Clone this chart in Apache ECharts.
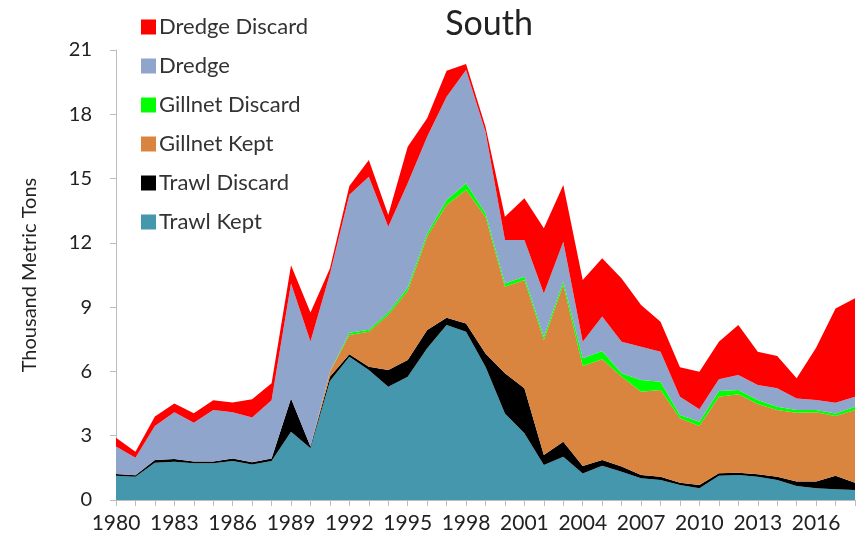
<!DOCTYPE html>
<html>
<head>
<meta charset="utf-8">
<script src="https://cdn.jsdelivr.net/npm/echarts@6/dist/echarts.min.js"></script>
<style>
  html, body { margin: 0; padding: 0; background: #fff; }
  #chart { width: 860px; height: 546px; }
</style>
</head>
<body>
<div id="chart"></div>
<script>
// years on the x axis
const years = [];
for (let y = 1980; y <= 2018; y++) years.push(String(y));

// thousand metric tons
const trawlKept = [1.13, 1.09, 1.74, 1.79, 1.71, 1.71, 1.82, 1.66, 1.82, 3.19, 2.41, 5.55, 6.69, 6.07, 5.29, 5.75, 7.08, 8.17, 7.85, 6.22, 4.04, 3.11, 1.63, 2.02, 1.24, 1.6, 1.32, 1.01, 0.93, 0.7, 0.55, 1.13, 1.17, 1.09, 0.93, 0.65, 0.55, 0.5, 0.47];
const trawlDiscard = [0.08, 0.06, 0.13, 0.12, 0.09, 0.09, 0.12, 0.1, 0.12, 1.55, 0.09, 0.2, 0.11, 0.15, 0.78, 0.78, 0.85, 0.34, 0.39, 0.62, 1.87, 2.1, 0.47, 0.7, 0.35, 0.27, 0.24, 0.16, 0.16, 0.11, 0.15, 0.12, 0.1, 0.11, 0.16, 0.21, 0.31, 0.63, 0.34];
const gillnetKept = [0, 0, 0, 0, 0, 0, 0, 0, 0, 0, 0, 0.23, 0.9, 1.63, 2.56, 3.22, 4.37, 5.26, 6.23, 6.38, 4.04, 5.06, 5.37, 7.33, 4.66, 4.7, 4.19, 3.88, 4.04, 3.0, 2.75, 3.57, 3.66, 3.28, 3.11, 3.21, 3.23, 2.79, 3.39];
const gillnetDiscard = [0, 0, 0, 0, 0, 0, 0, 0, 0, 0, 0, 0.02, 0.1, 0.1, 0.12, 0.15, 0.14, 0.23, 0.31, 0.16, 0.15, 0.15, 0.15, 0.15, 0.36, 0.38, 0.16, 0.55, 0.39, 0.16, 0.2, 0.27, 0.2, 0.19, 0.15, 0.13, 0.11, 0.12, 0.15];
const dredge = [1.29, 0.82, 1.58, 2.19, 1.8, 2.4, 2.16, 2.09, 2.71, 5.36, 4.9, 4.55, 6.45, 7.14, 4.0, 4.88, 4.51, 4.82, 5.29, 3.81, 2.03, 1.71, 2.02, 1.85, 0.78, 1.61, 1.48, 1.55, 1.4, 0.85, 0.58, 0.54, 0.7, 0.7, 0.86, 0.54, 0.47, 0.5, 0.47];
const dredgeDiscard = [0.4, 0.28, 0.45, 0.4, 0.45, 0.45, 0.45, 0.85, 0.8, 0.85, 1.35, 0.25, 0.4, 0.78, 0.55, 1.71, 0.86, 1.21, 0.28, 0.23, 1.09, 1.95, 3.04, 2.65, 2.88, 2.72, 2.95, 1.95, 1.4, 1.37, 1.76, 1.76, 2.34, 1.55, 1.51, 0.94, 2.43, 4.4, 4.59];

const yTicks = [0, 3, 6, 9, 12, 15, 18, 21];

const font = 'Lato, "Open Sans", sans-serif';

function area(name, data, color) {
  return {
    name: name,
    type: 'line',
    stack: 'total',
    data: data,
    symbol: 'none',
    lineStyle: { width: 0 },
    areaStyle: { color: color, opacity: 1 },
    itemStyle: { color: color }
  };
}

const chart = echarts.init(document.getElementById('chart'));
chart.setOption({
  animation: false,
  title: {
    text: 'South',
    left: 484,
    top: 2,
    textAlign: 'center',
    textStyle: { fontFamily: font, fontSize: 34, fontWeight: 'normal', color: '#222' }
  },
  legend: {
    orient: 'vertical',
    left: 136,
    top: 11,
    itemWidth: 15,
    itemHeight: 15,
    itemGap: 17,
    icon: 'rect',
    textStyle: { fontFamily: font, fontSize: 22, color: '#333', padding: [0, 0, 0, -2] },
    data: ['Dredge Discard', 'Dredge', 'Gillnet Discard', 'Gillnet Kept', 'Trawl Discard', 'Trawl Kept']
  },
  grid: { left: 116, right: 5, top: 50, bottom: 46, containLabel: false },
  xAxis: {
    type: 'category',
    data: years,
    boundaryGap: false,
    axisLine: { lineStyle: { color: '#bdbdbd', width: 1 } },
    axisTick: { show: true, interval: 0, length: 6, lineStyle: { color: '#bdbdbd' } },
    axisLabel: { interval: 2, fontFamily: font, fontSize: 21, color: '#222', margin: 13 }
  },
  yAxis: {
    type: 'value',
    min: yTicks[0],
    max: yTicks[yTicks.length - 1],
    interval: 3,
    name: 'Thousand Metric Tons',
    nameLocation: 'middle',
    nameGap: 76,
    nameTextStyle: { fontFamily: font, fontSize: 20, color: '#222' },
    axisLine: { show: true, lineStyle: { color: '#bdbdbd', width: 1 } },
    axisTick: { show: true, length: 6, lineStyle: { color: '#bdbdbd' } },
    splitLine: { show: false },
    axisLabel: { fontFamily: font, fontSize: 20, color: '#222', margin: 24 }
  },
  series: [
    area('Trawl Kept', trawlKept, '#4597ad'),
    area('Trawl Discard', trawlDiscard, '#000000'),
    area('Gillnet Kept', gillnetKept, '#d9853f'),
    area('Gillnet Discard', gillnetDiscard, '#00ff00'),
    area('Dredge', dredge, '#8fa5cc'),
    area('Dredge Discard', dredgeDiscard, '#ff0000')
  ]
});
</script>
</body>
</html>
